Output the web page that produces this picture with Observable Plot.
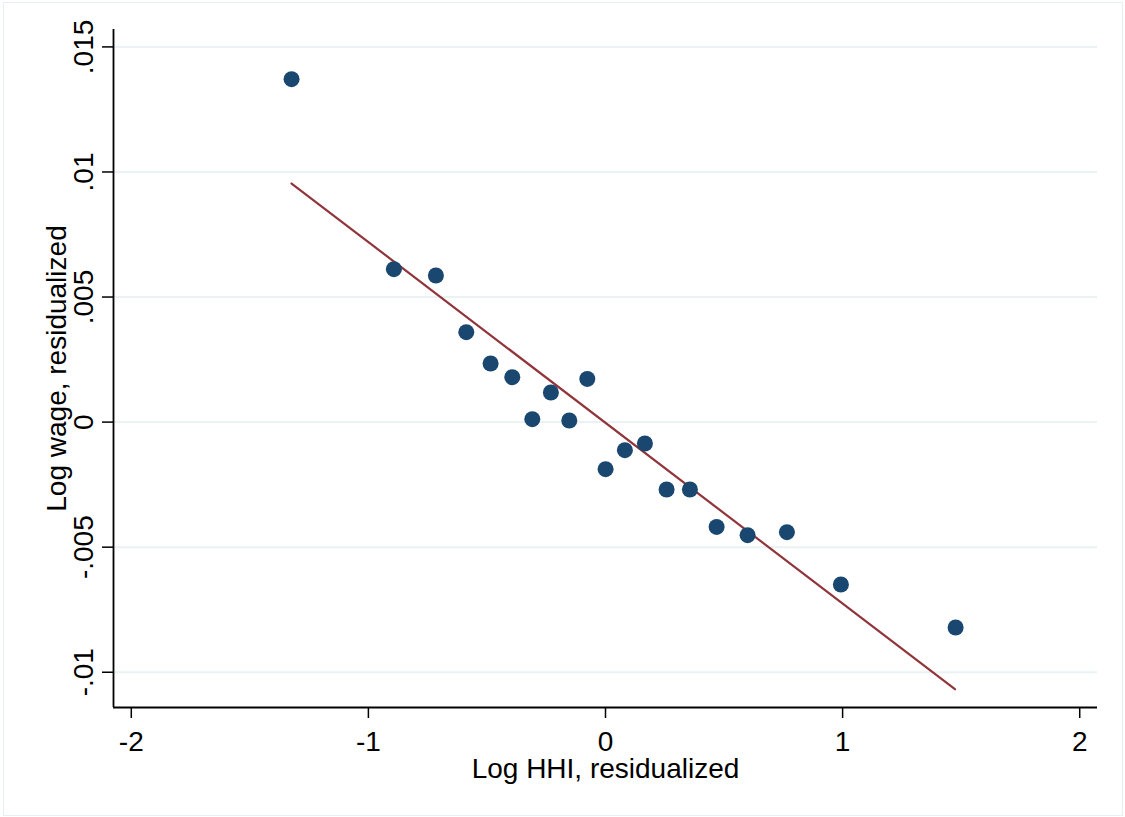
<!DOCTYPE html>
<html>
<head>
<meta charset="utf-8">
<script src="https://cdn.jsdelivr.net/npm/d3@7"></script>
<script src="https://cdn.jsdelivr.net/npm/@observablehq/plot@0.6"></script>
<style>
  html, body { margin: 0; padding: 0; background: #fff; }
  #wrap { position: relative; width: 1125px; height: 817px; }
  #border { position: absolute; left: 3px; top: 2px; width: 1118px; height: 812px; border: 1.5px solid #e6eff1; pointer-events: none; }
</style>
</head>
<body>
<div id="wrap"><div id="border"></div></div>
<script>
// Binned scatter points
const binX = [-1.324, -0.8925, -0.7153, -0.5871, -0.4846, -0.3931, -0.3087, -0.2303, -0.1527, -0.0768,
              0.0004, 0.0818, 0.1662, 0.2577, 0.356, 0.4686, 0.5993, 0.7651, 0.9928, 1.4766];
const binY = [0.01371, 0.006113, 0.005861, 0.003594, 0.002343, 0.001795, 0.000116, 0.001183, 0.000064, 0.001727,
              -0.001883, -0.001123, -0.000856, -0.002695, -0.002695, -0.00419, -0.004522, -0.004402, -0.006493, -0.008212];
// Fitted line endpoints
const fitX = [-1.324, 1.4737];
const fitY = [0.009539, -0.010679];
// Axes
const xTicks = [-2, -1, 0, 1, 2];
const xTickLabels = ["-2", "-1", "0", "1", "2"];
const yTicks = [0.015, 0.01, 0.005, 0, -0.005, -0.01];
const yTickLabels = [".015", ".01", ".005", "0", "-.005", "-.01"];
const xDomain = [-2.075, 2.075];
const yDomain = [-0.01141, 0.015696];
const xTitle = "Log HHI, residualized";
const yTitle = "Log wage, residualized";

const points = binX.map((x, i) => ({x, y: binY[i]}));
const fit = fitX.map((x, i) => ({x, y: fitY[i]}));
const xLab = new Map(xTicks.map((t, i) => [t, xTickLabels[i]]));
const yLab = new Map(yTicks.map((t, i) => [t, yTickLabels[i]]));

const chart = Plot.plot({
  width: 1125,
  height: 817,
  marginLeft: 113,
  marginRight: 28,
  marginTop: 29,
  marginBottom: 110,
  style: {fontFamily: "'Liberation Sans', Arial, sans-serif", fontSize: "28px", color: "#000", background: "transparent"},
  x: {domain: xDomain},
  y: {domain: yDomain},
  marks: [
    Plot.gridY(yTicks, {stroke: "#eaf2f3", strokeOpacity: 1, strokeWidth: 2}),
    Plot.axisX({ticks: xTicks, tickFormat: d => xLab.get(d), tickSize: 11, tickPadding: 13, fontSize: 28, strokeWidth: 1.5, label: null}),
    Plot.axisY({ticks: yTicks, tickFormat: d => yLab.get(d), tickSize: 11, tickPadding: 10, tickRotate: -90, fontSize: 28, strokeWidth: 1.5, label: null}),
    Plot.ruleX([xDomain[0]], {stroke: "#000", strokeWidth: 1.8}),
    Plot.ruleY([yDomain[0]], {stroke: "#000", strokeWidth: 1.8}),
    Plot.line(fit, {x: "x", y: "y", stroke: "#90353b", strokeWidth: 2.2}),
    Plot.dot(points, {x: "x", y: "y", r: 8, fill: "#1a476f", stroke: "none"}),
    Plot.text([xTitle], {frameAnchor: "bottom", text: d => d, dy: 70, lineAnchor: "bottom", textAnchor: "middle", fontSize: 28, fill: "#000"}),
    Plot.text([yTitle], {frameAnchor: "left", text: d => d, dx: -48, rotate: -90, lineAnchor: "bottom", textAnchor: "middle", fontSize: 28, fill: "#000"})
  ]
});
document.getElementById("wrap").prepend(chart);
</script>
</body>
</html>
